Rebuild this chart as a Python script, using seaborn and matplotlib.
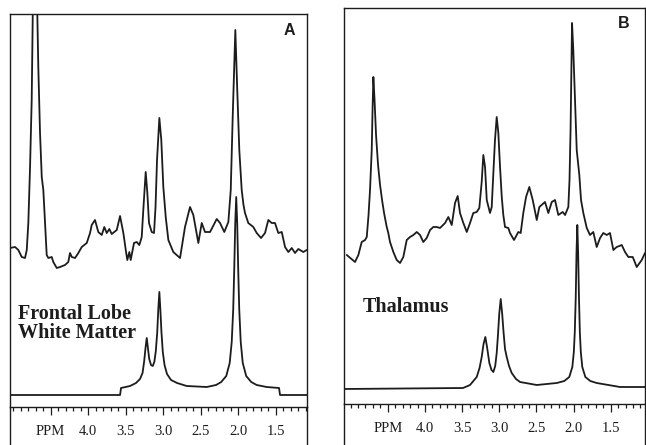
import pandas as pd
import seaborn as sns
import matplotlib.pyplot as plt
from matplotlib.ticker import FixedLocator, MultipleLocator

# spectra: (chemical shift in ppm, signal height in arbitrary units)
A_UPPER = [
    (5.040, 159), (4.973, 160), (4.929, 157), (4.884, 150), (4.840, 149), (4.817, 157),
    (4.796, 184), (4.773, 240), (4.751, 307), (4.737, 392), (4.707, 427), (4.676, 392),
    (4.663, 340), (4.640, 274), (4.617, 230), (4.596, 217), (4.573, 184), (4.551, 152),
    (4.529, 149), (4.484, 150), (4.463, 145), (4.417, 139), (4.373, 140), (4.307, 142),
    (4.263, 145), (4.240, 154), (4.217, 150), (4.173, 149), (4.129, 154), (4.084, 160),
    (4.017, 164), (3.973, 174), (3.951, 182), (3.907, 187), (3.863, 175), (3.817, 172),
    (3.783, 180), (3.751, 174), (3.716, 178), (3.684, 173), (3.617, 177), (3.573, 191),
    (3.529, 174), (3.493, 155), (3.476, 147), (3.449, 155), (3.431, 147), (3.387, 164),
    (3.351, 165), (3.316, 162), (3.284, 170), (3.263, 197), (3.231, 235), (3.209, 214),
    (3.187, 184), (3.151, 175), (3.120, 174), (3.100, 200), (3.080, 247), (3.049, 289),
    (3.023, 267), (2.996, 220), (2.964, 190), (2.929, 167), (2.863, 155), (2.773, 149),
    (2.707, 180), (2.640, 200), (2.596, 192), (2.529, 164), (2.484, 184), (2.440, 175),
    (2.373, 175), (2.284, 188), (2.240, 184), (2.183, 175), (2.129, 185), (2.097, 217),
    (2.071, 290), (2.036, 377), (2.009, 314), (1.983, 257), (1.951, 217), (1.927, 202),
    (1.907, 194), (1.863, 184), (1.796, 180), (1.751, 174), (1.693, 169), (1.640, 174),
    (1.596, 187), (1.551, 184), (1.507, 184), (1.463, 174), (1.417, 175), (1.373, 160),
    (1.329, 155), (1.284, 159), (1.240, 154), (1.196, 158), (1.129, 155), (1.084, 157),
]
A_LOWER = [
    (5.050, 12), (3.573, 12), (3.560, 19), (3.440, 21), (3.360, 24), (3.307, 28),
    (3.273, 34), (3.251, 46), (3.232, 60), (3.217, 69), (3.203, 60), (3.184, 48),
    (3.160, 42), (3.137, 41), (3.116, 45), (3.096, 56), (3.077, 75), (3.063, 98),
    (3.049, 115), (3.036, 98), (3.021, 75), (3.003, 55), (2.980, 42), (2.947, 33),
    (2.893, 27), (2.813, 24), (2.684, 21), (2.417, 20), (2.293, 22), (2.224, 25),
    (2.157, 31), (2.111, 44), (2.084, 65), (2.064, 98), (2.051, 136), (2.037, 184),
    (2.024, 210), (2.011, 184), (1.997, 136), (1.984, 98), (1.964, 65), (1.937, 44),
    (1.891, 31), (1.824, 25), (1.751, 22), (1.617, 20), (1.453, 19), (1.440, 12),
    (1.080, 12),
]
B_UPPER = [
    (5.052, 149), (4.941, 142), (4.896, 149), (4.851, 162), (4.806, 164), (4.783, 167),
    (4.759, 189), (4.739, 214), (4.716, 254), (4.705, 294), (4.694, 327), (4.678, 304),
    (4.658, 269), (4.631, 239), (4.604, 219), (4.577, 204), (4.550, 191), (4.517, 178),
    (4.493, 171), (4.470, 162), (4.425, 152), (4.380, 144), (4.335, 141), (4.291, 147),
    (4.245, 164), (4.201, 167), (4.156, 169), (4.110, 172), (4.066, 169), (4.022, 162),
    (3.976, 166), (3.931, 174), (3.887, 177), (3.841, 177), (3.797, 176), (3.729, 181),
    (3.685, 187), (3.639, 179), (3.595, 201), (3.559, 208), (3.528, 191), (3.483, 181),
    (3.437, 172), (3.393, 181), (3.349, 191), (3.303, 192), (3.268, 196), (3.236, 222),
    (3.214, 249), (3.191, 237), (3.168, 204), (3.124, 191), (3.101, 197), (3.079, 231),
    (3.057, 264), (3.034, 287), (3.012, 271), (2.989, 237), (2.966, 207), (2.945, 189),
    (2.922, 177), (2.877, 176), (2.855, 171), (2.801, 164), (2.743, 172), (2.711, 171),
    (2.676, 191), (2.639, 207), (2.595, 217), (2.549, 204), (2.495, 184), (2.460, 197),
    (2.384, 202), (2.339, 191), (2.293, 202), (2.249, 204), (2.205, 189), (2.145, 192),
    (2.114, 189), (2.070, 197), (2.054, 224), (2.040, 274), (2.020, 381), (2.003, 354),
    (1.980, 304), (1.957, 254), (1.922, 229), (1.899, 204), (1.868, 191), (1.822, 176),
    (1.778, 169), (1.734, 172), (1.688, 157), (1.643, 166), (1.599, 171), (1.553, 169),
    (1.509, 171), (1.464, 154), (1.419, 157), (1.351, 159), (1.307, 152), (1.262, 147),
    (1.203, 147), (1.149, 137), (1.082, 144), (1.038, 151),
]
B_LOWER = [
    (5.100, 15), (3.487, 16), (3.393, 19), (3.303, 27), (3.265, 36), (3.236, 47),
    (3.211, 60), (3.187, 67), (3.162, 56), (3.133, 41), (3.104, 34), (3.079, 32),
    (3.054, 38), (3.034, 51), (3.016, 70), (3.000, 90), (2.980, 105), (2.960, 90),
    (2.942, 72), (2.922, 55), (2.899, 47), (2.868, 38), (2.832, 31), (2.774, 25),
    (2.720, 22), (2.495, 19), (2.226, 21), (2.124, 23), (2.057, 27), (2.016, 37),
    (1.996, 52), (1.983, 72), (1.970, 107), (1.960, 151), (1.949, 179), (1.938, 151),
    (1.927, 107), (1.915, 72), (1.902, 52), (1.882, 37), (1.841, 27), (1.774, 23),
    (1.688, 21), (1.374, 17), (1.030, 17),
]

TICK_PPM = [4.5, 4.0, 3.5, 3.0, 2.5, 2.0, 1.5]
TICK_LABELS = ["PPM", "4.0", "3.5", "3.0", "2.5", "2.0", "1.5"]

sns.set_style("white")
plt.rcParams["font.family"] = ["Liberation Serif", "DejaVu Serif"]

W, H = 646, 445
INK = "#1c1c1c"
fig = plt.figure(figsize=(W / 100, H / 100), dpi=100)


def rect(left, top, right, bottom):
    # pixel box -> figure fraction
    return [left / W, 1 - bottom / H, (right - left) / W, (bottom - top) / H]


def panel(box, scale_y, xlim, upper, lower, letter, letter_xy, region, region_xy):
    left, top, right = box
    ax = fig.add_axes(rect(left, top, right, scale_y))
    ax_s = fig.add_axes(rect(left, scale_y, right, H + 30))

    for trace in (upper, lower):
        df = pd.DataFrame(trace, columns=["ppm", "signal"])
        sns.lineplot(data=df, x="ppm", y="signal", ax=ax, sort=False,
                     estimator=None, color=INK, linewidth=1.3)
    ax.set_xlim(*xlim)
    ax.set_ylim(0, scale_y - top)
    ax.set(xlabel="", ylabel="", xticks=[], yticks=[])
    ax.spines["bottom"].set_visible(False)

    # ppm scale strip under the spectra
    ax_s.set_xlim(*xlim)
    ax_s.set_yticks([])
    ax_s.spines["bottom"].set_visible(False)
    ax_s.xaxis.set_ticks_position("top")
    ax_s.xaxis.set_major_locator(FixedLocator(TICK_PPM))
    ax_s.xaxis.set_minor_locator(MultipleLocator(0.1))
    ax_s.tick_params(axis="x", which="both", direction="in", color=INK, width=0.9,
                     labeltop=False, labelbottom=False)
    ax_s.tick_params(axis="x", which="major", length=6)
    ax_s.tick_params(axis="x", which="minor", length=3)
    for ppm, lab in zip(TICK_PPM, TICK_LABELS):
        ax_s.annotate(lab, xy=(ppm, 1), xycoords=ax_s.get_xaxis_transform(),
                      xytext=(0, -17.3), textcoords="offset points",
                      ha="center", va="center", fontsize=10.5, color=INK)

    for a in (ax, ax_s):
        for s in a.spines.values():
            s.set_color(INK)
            s.set_linewidth(1.0)

    ax.text(*letter_xy, letter, transform=ax.transAxes, ha="center", va="center",
            fontsize=11.5, fontweight="bold", color=INK,
            family=["Liberation Sans", "DejaVu Sans"])
    ax.text(*region_xy, region, transform=ax.transAxes, ha="left", va="center",
            fontsize=14.5, fontweight="bold", color=INK, linespacing=0.95)


panel((9.5, 13.5, 306.5), 407, (5.047, 1.087), A_UPPER, A_LOWER,
      "A", (0.941, 0.958), "Frontal Lobe\nWhite Matter", (0.027, 0.212))
panel((343.5, 8, 645), 404, (5.096, 1.038), B_UPPER, B_LOWER,
      "B", (0.930, 0.960), "Thalamus", (0.064, 0.244))

fig.savefig("out.png", dpi=100)
